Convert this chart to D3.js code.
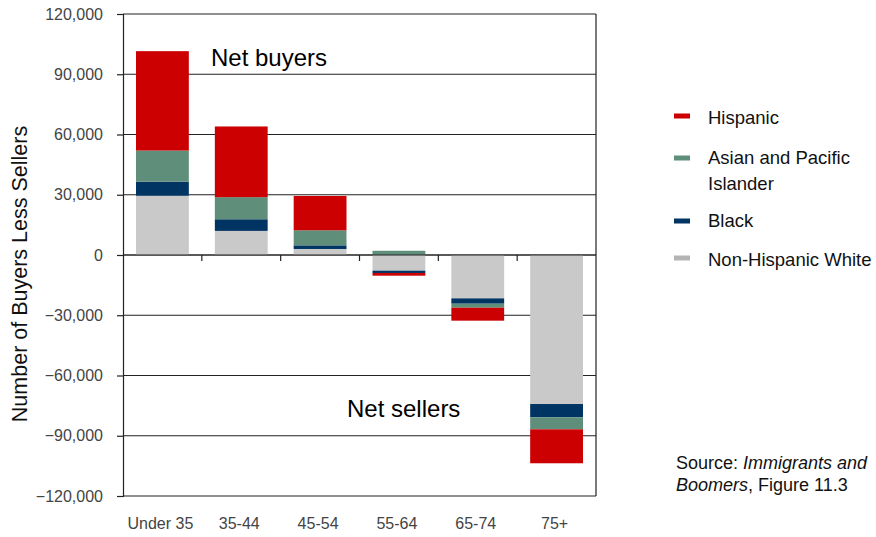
<!DOCTYPE html>
<html>
<head>
<meta charset="utf-8">
<script src="https://cdn.jsdelivr.net/npm/d3@7"></script>
<style>
  html, body { margin: 0; padding: 0; background: #fff; }
  svg { display: block; font-family: "Liberation Sans", Arial, sans-serif; }
</style>
</head>
<body>
<svg id="chart" width="876" height="537"></svg>
<script>
const categories = ["Under 35", "35-44", "45-54", "55-64", "65-74", "75+"];
const seriesKeys = ["white", "black", "asian", "hispanic"];
const white    = [29500, 12000, 3000, -7800, -21600, -74200];
const black    = [7000, 5800, 1800, -1150, -2650, -6600];
const asian    = [15500, 11000, 7500, 2100, -2000, -6000];
const hispanic = [49500, 35200, 17100, -1350, -6450, -16900];
const yTicks = [-120000, -90000, -60000, -30000, 0, 30000, 60000, 90000, 120000];
const legendItems = [
  { key: "hispanic", lines: ["Hispanic"] },
  { key: "asian", lines: ["Asian and Pacific", "Islander"] },
  { key: "black", lines: ["Black"] },
  { key: "white", lines: ["Non-Hispanic White"] }
];

const barColor = { hispanic: "#cc0000", asian: "#5f8f7b", black: "#003462", white: "#c9c9c9" };
const legendColor = { hispanic: "#cc0000", asian: "#5f8f7b", black: "#003462", white: "#b4b4b4" };

const values = { white, black, asian, hispanic };
const rows = categories.map((c, i) => {
  const r = { cat: c };
  seriesKeys.forEach(k => r[k] = values[k][i]);
  return r;
});

const svg = d3.select("#chart");
const pLeft = 123, pRight = 596, pTop = 14, pBottom = 496;

const x = d3.scaleBand().domain(categories).range([pLeft, pRight])
  .paddingInner(0.33).paddingOuter(0.165);
const y = d3.scaleLinear().domain([-120000, 120000]).range([pBottom, pTop]);

// gridlines
svg.append("g").selectAll("line").data(yTicks).join("line")
  .attr("x1", pLeft).attr("x2", pRight)
  .attr("y1", d => y(d)).attr("y2", d => y(d))
  .attr("stroke", "#222").attr("stroke-width", 1.2);

// right border
svg.append("line").attr("x1", pRight).attr("x2", pRight).attr("y1", pTop).attr("y2", pBottom)
  .attr("stroke", "#222").attr("stroke-width", 1.2);

// bars
const stack = d3.stack().keys(seriesKeys).offset(d3.stackOffsetDiverging);
const stacked = stack(rows);
svg.append("g").selectAll("g").data(stacked).join("g")
  .attr("fill", d => barColor[d.key])
  .selectAll("rect").data(d => d).join("rect")
  .attr("x", d => x(d.data.cat))
  .attr("width", x.bandwidth())
  .attr("y", d => y(Math.max(d[0], d[1])))
  .attr("height", d => Math.abs(y(d[0]) - y(d[1])));

// y axis
const yAxis = d3.axisLeft(y).tickValues(yTicks).tickFormat(d3.format(",")).tickSize(6).tickPadding(14);
const gy = svg.append("g").attr("transform", `translate(${pLeft},0)`).call(yAxis);
gy.select(".domain").attr("stroke", "#222").attr("stroke-width", 1.2);
gy.selectAll(".tick line").attr("stroke", "#222").attr("stroke-width", 1.2);
gy.selectAll(".tick text").attr("fill", "#444").attr("font-size", 16)
  .attr("font-family", "Liberation Sans, Arial, sans-serif");

// zero line with category separator ticks
svg.append("line").attr("x1", pLeft).attr("x2", pRight).attr("y1", y(0)).attr("y2", y(0))
  .attr("stroke", "#222").attr("stroke-width", 1.2);
const sepTicks = categories.slice(1).map(c => x(c) - x.step() * x.paddingInner() / 2);
svg.append("g").selectAll("line").data(sepTicks).join("line")
  .attr("x1", d => d).attr("x2", d => d)
  .attr("y1", y(0)).attr("y2", y(0) + 6)
  .attr("stroke", "#222").attr("stroke-width", 1.2);

// category labels
svg.append("g").selectAll("text").data(categories).join("text")
  .attr("x", d => x(d) + x.bandwidth() / 2 - 2)
  .attr("y", 529)
  .attr("text-anchor", "middle")
  .attr("fill", "#444").attr("font-size", 16)
  .text(d => d);

// y axis title
svg.append("text")
  .attr("transform", "translate(27,274) rotate(-90)")
  .attr("text-anchor", "middle")
  .attr("fill", "#111").attr("font-size", 21.5)
  .text("Number of Buyers Less Sellers");

// annotations
svg.append("text").attr("x", 211).attr("y", 66).attr("font-size", 24).attr("fill", "#000").text("Net buyers");
svg.append("text").attr("x", 347).attr("y", 417).attr("font-size", 24).attr("fill", "#000").text("Net sellers");

// legend
const swatchY = [116, 158, 221, 258];
const textY = [124, 164, 227, 265.5];
const lg = svg.append("g").selectAll("g").data(legendItems).join("g");
lg.append("rect").attr("x", 674).attr("y", (d, i) => swatchY[i] - 2.5).attr("width", 16).attr("height", 5)
  .attr("fill", d => legendColor[d.key]);
lg.append("text").attr("x", 708).attr("y", (d, i) => textY[i]).attr("font-size", 18.5).attr("fill", "#111")
  .selectAll("tspan").data(d => d.lines).join("tspan")
  .attr("x", 708).attr("dy", (d, i) => i === 0 ? 0 : 26)
  .text(d => d);

// source
const src = svg.append("text").attr("x", 676).attr("y", 469).attr("font-size", 18).attr("fill", "#111");
src.append("tspan").text("Source: ");
src.append("tspan").attr("font-style", "italic").text("Immigrants and");
const src2 = svg.append("text").attr("x", 676).attr("y", 491).attr("font-size", 18).attr("fill", "#111");
src2.append("tspan").attr("font-style", "italic").text("Boomers");
src2.append("tspan").text(", Figure 11.3");
</script>
</body>
</html>
